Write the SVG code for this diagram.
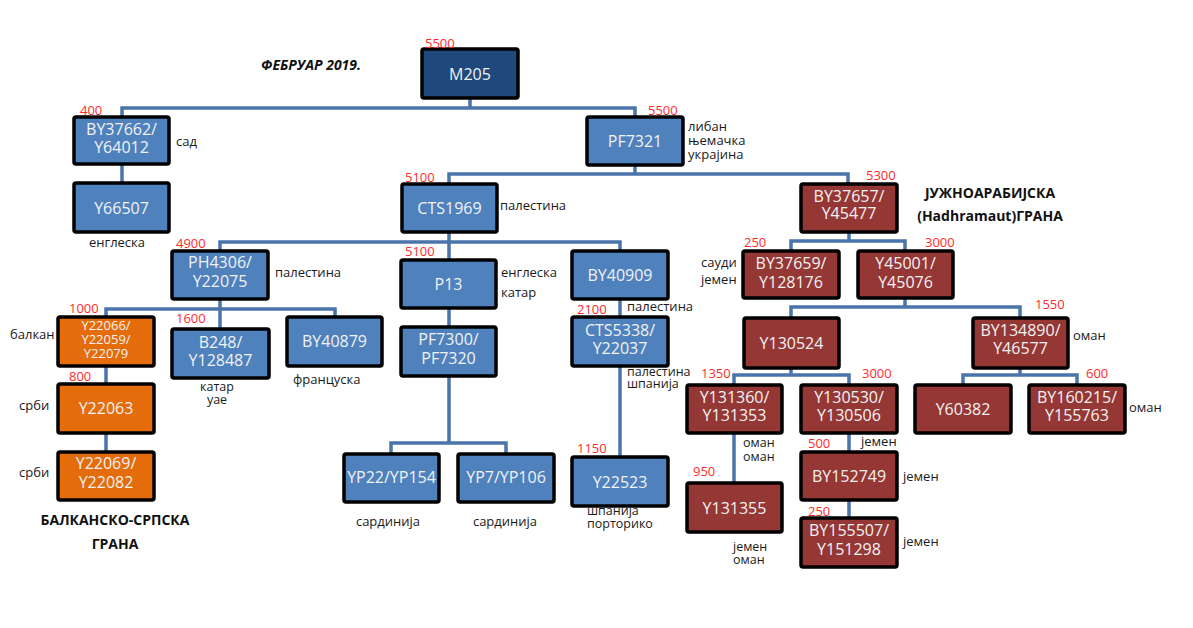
<svg xmlns="http://www.w3.org/2000/svg" width="1193" height="628" viewBox="0 0 1193 628">
<style>
.b{stroke:#000;stroke-width:3.5}
.bl{fill:#4f81bd}.db{fill:#1f497d}.rd{fill:#953735}.or{fill:#e46c0a}
.t{font-family:"Open Sans","Liberation Sans",sans-serif;font-size:16px;fill:#f2f2f2;text-anchor:middle}
.t3{font-size:13px}
.l{font-family:"Open Sans","Liberation Sans",sans-serif;font-size:13px;fill:#1a1a1a}
.s{font-size:12.5px}
.c{text-anchor:middle}
.n{font-family:"Open Sans","Liberation Sans",sans-serif;font-size:13px;fill:#ff2a2a}
.h{font-family:"Open Sans","Liberation Sans",sans-serif;font-size:14px;font-weight:bold;fill:#111;text-anchor:middle}
.k{fill:none;stroke:#4a74aa;stroke-width:3.5}
</style>
<rect width="1193" height="628" fill="#fff"/>
<g id="connectors" class="k">
<path d="M470,98V108M122,117V108H635V117"/>
<path d="M122,164V183"/>
<path d="M635,165V174M449,184V174H848V184"/>
<path d="M849,232V241M791,251V241H905V251"/>
<path d="M905,298V307M791,318V307H1020V318"/>
<path d="M791,368V375M734,385V375H849V385"/>
<path d="M1020,368V375M963,385V375H1077V385"/>
<path d="M734,433V483"/>
<path d="M849,433V452M849,500V518"/>
<path d="M449,232V260M220,251V242H620V251"/>
<path d="M220,299V329M106,317V309H335V317"/>
<path d="M106,366V384M106,433V452"/>
<path d="M449,308V327M449,376V443M391,454V443H506V454"/>
<path d="M620,299V317M620,366V457"/>
</g>
<g id="M205"><rect class="b db" x="422" y="49" width="96" height="49" rx="2"/><text class="t" x="470" y="80">M205</text></g>
<g id="BY37662"><rect class="b bl" x="74" y="117" width="95" height="47" rx="2"/><text class="t" x="121.5" y="135">BY37662/</text><text class="t" x="121.5" y="153">Y64012</text></g>
<g id="Y66507"><rect class="b bl" x="74" y="183" width="95" height="49" rx="2"/><text class="t" x="121.5" y="214">Y66507</text></g>
<g id="PF7321"><rect class="b bl" x="587" y="117" width="96" height="48" rx="2"/><text class="t" x="635" y="147">PF7321</text></g>
<g id="CTS1969"><rect class="b bl" x="402" y="184" width="95" height="48" rx="2"/><text class="t" x="449.5" y="214">CTS1969</text></g>
<g id="BY37657"><rect class="b rd" x="801" y="184" width="96" height="48" rx="2"/><text class="t" x="849" y="202">BY37657/</text><text class="t" x="849" y="219">Y45477</text></g>
<g id="PH4306"><rect class="b bl" x="172" y="251" width="96" height="48" rx="2"/><text class="t" x="220" y="268">PH4306/</text><text class="t" x="220" y="287">Y22075</text></g>
<g id="P13"><rect class="b bl" x="401" y="260" width="95" height="48" rx="2"/><text class="t" x="448.5" y="290">P13</text></g>
<g id="BY40909"><rect class="b bl" x="572" y="251" width="96" height="48" rx="2"/><text class="t" x="620" y="281">BY40909</text></g>
<g id="BY37659"><rect class="b rd" x="743" y="251" width="96" height="47" rx="2"/><text class="t" x="791" y="269">BY37659/</text><text class="t" x="791" y="288">Y128176</text></g>
<g id="Y45001"><rect class="b rd" x="858" y="251" width="95" height="47" rx="2"/><text class="t" x="905.5" y="269">Y45001/</text><text class="t" x="905.5" y="288">Y45076</text></g>
<g id="Y22066"><rect class="b or" x="58" y="317" width="96" height="49" rx="2"/><text class="t t3" x="106" y="330">Y22066/</text><text class="t t3" x="106" y="344">Y22059/</text><text class="t t3" x="106" y="358">Y22079</text></g>
<g id="B248"><rect class="b bl" x="172" y="329" width="97" height="49" rx="2"/><text class="t" x="220.5" y="348">B248/</text><text class="t" x="220.5" y="366">Y128487</text></g>
<g id="BY40879"><rect class="b bl" x="287" y="317" width="95" height="49" rx="2"/><text class="t" x="334.5" y="347">BY40879</text></g>
<g id="PF7300"><rect class="b bl" x="401" y="327" width="95" height="49" rx="2"/><text class="t" x="448.5" y="345">PF7300/</text><text class="t" x="448.5" y="364">PF7320</text></g>
<g id="CTS5338"><rect class="b bl" x="572" y="317" width="96" height="49" rx="2"/><text class="t" x="620" y="336">CTS5338/</text><text class="t" x="620" y="354">Y22037</text></g>
<g id="Y130524"><rect class="b rd" x="744" y="318" width="95" height="50" rx="2"/><text class="t" x="791.5" y="349">Y130524</text></g>
<g id="BY134890"><rect class="b rd" x="973" y="318" width="95" height="50" rx="2"/><text class="t" x="1020.5" y="336">BY134890/</text><text class="t" x="1020.5" y="354">Y46577</text></g>
<g id="Y22063"><rect class="b or" x="58" y="384" width="96" height="49" rx="2"/><text class="t" x="106" y="414">Y22063</text></g>
<g id="Y131360"><rect class="b rd" x="687" y="385" width="95" height="48" rx="2"/><text class="t" x="734.5" y="403">Y131360/</text><text class="t" x="734.5" y="421">Y131353</text></g>
<g id="Y130530"><rect class="b rd" x="801" y="385" width="96" height="48" rx="2"/><text class="t" x="849" y="403">Y130530/</text><text class="t" x="849" y="421">Y130506</text></g>
<g id="Y60382"><rect class="b rd" x="915" y="385" width="96" height="48" rx="2"/><text class="t" x="963" y="415">Y60382</text></g>
<g id="BY160215"><rect class="b rd" x="1029" y="385" width="96" height="48" rx="2"/><text class="t" x="1077" y="403">BY160215/</text><text class="t" x="1077" y="421">Y155763</text></g>
<g id="Y22069"><rect class="b or" x="58" y="452" width="96" height="48" rx="2"/><text class="t" x="106" y="469">Y22069/</text><text class="t" x="106" y="488">Y22082</text></g>
<g id="Y131355"><rect class="b rd" x="687" y="483" width="95" height="49" rx="2"/><text class="t" x="734.5" y="514">Y131355</text></g>
<g id="BY152749"><rect class="b rd" x="801" y="452" width="96" height="48" rx="2"/><text class="t" x="849" y="482">BY152749</text></g>
<g id="BY155507"><rect class="b rd" x="801" y="518" width="96" height="49" rx="2"/><text class="t" x="849" y="536">BY155507/</text><text class="t" x="849" y="555">Y151298</text></g>
<g id="YP22"><rect class="b bl" x="344" y="454" width="95" height="48" rx="2"/><text class="t" x="391.5" y="483">YP22/YP154</text></g>
<g id="YP7"><rect class="b bl" x="458" y="454" width="96" height="48" rx="2"/><text class="t" x="506" y="483">YP7/YP106</text></g>
<g id="Y22523"><rect class="b bl" x="572" y="457" width="96" height="49" rx="2"/><text class="t" x="620" y="488">Y22523</text></g>
<g id="numbers" class="n">
<text x="425" y="48">5500</text>
<text x="80" y="115">400</text>
<text x="648" y="115">5500</text>
<text x="405" y="182">5100</text>
<text x="866" y="180">5300</text>
<text x="176" y="248">4900</text>
<text x="405" y="256">5100</text>
<text x="744" y="247">250</text>
<text x="925" y="247">3000</text>
<text x="69" y="313">1000</text>
<text x="176" y="323">1600</text>
<text x="577" y="314">2100</text>
<text x="1035" y="309">1550</text>
<text x="69" y="381">800</text>
<text x="701" y="378">1350</text>
<text x="862" y="378">3000</text>
<text x="1086" y="378">600</text>
<text x="693" y="476">950</text>
<text x="808" y="448">500</text>
<text x="808" y="516">250</text>
<text x="577" y="453">1150</text>
</g>
<g id="labels" class="l">
<text x="176" y="146">сад</text>
<text x="89" y="247">енглеска</text>
<text x="688" y="131">либан</text>
<text x="688" y="145">њемачка</text>
<text x="688" y="159">украјина</text>
<text x="500" y="210">палестина</text>
<text x="701" y="267">сауди</text>
<text x="701" y="284">јемен</text>
<text x="275" y="277">палестина</text>
<text x="501" y="277">енглеска</text>
<text x="501" y="297">катар</text>
<text x="627" y="311">палестина</text>
<text class="s" x="627" y="376">палестина</text>
<text class="s" x="627" y="388">шпанија</text>
<text x="10" y="339">балкан</text>
<text class="c s" x="217" y="391">катар</text>
<text class="c s" x="217" y="404">уае</text>
<text x="293" y="384">француска</text>
<text x="1073" y="340">оман</text>
<text x="19" y="410">срби</text>
<text x="19" y="477">срби</text>
<text x="1129" y="412">оман</text>
<text class="s" x="743" y="447">оман</text>
<text class="s" x="743" y="461">оман</text>
<text x="861" y="446">јемен</text>
<text x="903" y="481">јемен</text>
<text x="903" y="546">јемен</text>
<text class="s" x="733" y="551">јемен</text>
<text class="s" x="733" y="564">оман</text>
<text class="c" x="388" y="526">сардинија</text>
<text class="c" x="505" y="526">сардинија</text>
<text class="s" x="587" y="515">шпанија</text>
<text class="s" x="587" y="528">порторико</text>
</g>
<g id="titles">
<text class="h" x="990" y="198">ЈУЖНОАРАБИЈСКА</text>
<text class="h" x="990" y="221">(Hadhramaut)ГРАНА</text>
<text class="h" x="115" y="525">БАЛКАНСКО-СРПСКА</text>
<text class="h" x="115" y="549">ГРАНА</text>
<text x="261" y="70" font-family="'Open Sans','Liberation Sans',sans-serif" font-size="14" font-weight="bold" font-style="italic" fill="#111">ФЕБРУАР 2019.</text>
</g>
</svg>
